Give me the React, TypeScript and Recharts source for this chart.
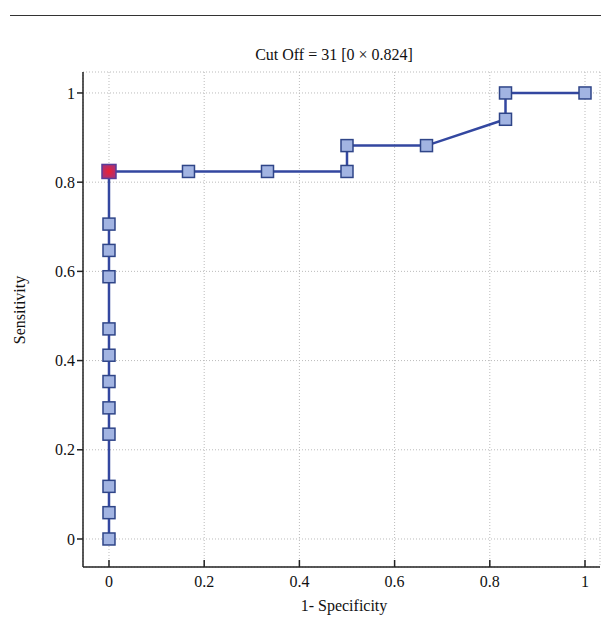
import { ComposedChart, Line, Scatter, XAxis, YAxis, CartesianGrid } from "recharts";

// ROC points (1 - specificity, sensitivity)
const fpr = [0, 0, 0, 0, 0, 0, 0, 0, 0, 0, 0, 0, 0.167, 0.333, 0.5, 0.5, 0.667, 0.833, 0.833, 1];
const tpr = [0, 0.059, 0.118, 0.235, 0.294, 0.353, 0.412, 0.471, 0.588, 0.647, 0.706, 0.824, 0.824, 0.824, 0.824, 0.882, 0.882, 0.941, 1, 1];
const cutOff = { x: 0, y: 0.824 };
const tickValues = [0, 0.2, 0.4, 0.6, 0.8, 1];

const rocData = fpr.map((x, i) => ({ x, y: tpr[i] }));
const cutData = [cutOff];

const FONT = "'Liberation Serif', serif";

const SquareDot = (props: any) => {
  const { cx, cy } = props;
  if (cx == null || cy == null) return null;
  return <rect x={cx - 6} y={cy - 6} width={12} height={12} fill="#a2b4e2" stroke="#2f4588" strokeWidth={1.5} />;
};

const RedSquare = (props: any) => {
  const { cx, cy } = props;
  if (cx == null || cy == null) return null;
  return (
    <g>
      <defs>
        <radialGradient id="redGrad">
          <stop offset="0%" stopColor="#ee2030" />
          <stop offset="100%" stopColor="#b03070" />
        </radialGradient>
      </defs>
      <rect x={cx - 7} y={cy - 7} width={14} height={14} fill="url(#redGrad)" stroke="#5a3c98" strokeWidth={1.5} />
    </g>
  );
};

const XTick = (props: any) => {
  const { x, y, payload } = props;
  return (
    <g>
      <line x1={x} x2={x} y1={y - 7} y2={y} stroke="#222" strokeWidth={1.5} />
      <text x={x} y={y + 20} textAnchor="middle" fontFamily={FONT} fontSize={16} fill="#111">
        {String(payload.value)}
      </text>
    </g>
  );
};

export default function App() {
  return (
    <div style={{ position: "absolute", left: 0, top: 0, width: 601, height: 632, background: "#fff" }}>
      <div style={{ position: "absolute", left: 10, top: 15, width: 591, height: 0, borderTop: "1.5px solid #333" }} />
      <ComposedChart
        width={601}
        height={632}
        margin={{ top: 72, right: 1, left: 0, bottom: 0 }}
      >
        <text x={334} y={60} textAnchor="middle" fontFamily={FONT} fontSize={16} fill="#111">
          Cut Off = 31 [0 × 0.824]
        </text>
        <text x={344} y={611} textAnchor="middle" fontFamily={FONT} fontSize={16} fill="#111">
          1- Specificity
        </text>
        <text x={25} y={310} textAnchor="middle" fontFamily={FONT} fontSize={16} fill="#111" transform="rotate(-90 25 310)">
          Sensitivity
        </text>
        <CartesianGrid stroke="#bbbbbb" strokeDasharray="1 2" />
        <XAxis
          dataKey="x"
          type="number"
          domain={[-0.0546, 1.0315]}
          ticks={tickValues}
          allowDataOverflow
          height={65}
          tickLine={false}
          tickSize={0}
          tickMargin={0}
          tick={<XTick />}
          axisLine={{ stroke: "#222", strokeWidth: 1.5 }}
        />
        <YAxis
          dataKey="y"
          type="number"
          domain={[-0.0628, 1.047]}
          ticks={tickValues}
          allowDataOverflow
          width={83}
          tickLine={{ stroke: "#222", strokeWidth: 1.5 }}
          tickSize={6}
          tickMargin={2}
          tick={{ fontFamily: FONT, fontSize: 16, fill: "#111" }}
          tickFormatter={(v: number) => String(v)}
          axisLine={{ stroke: "#222", strokeWidth: 1.5 }}
        />
        <Line
          data={rocData}
          dataKey="y"
          type="linear"
          stroke="#3347a0"
          strokeWidth={2.5}
          dot={<SquareDot />}
          activeDot={false}
          isAnimationActive={false}
        />
        <Scatter data={cutData} dataKey="y" shape={<RedSquare />} isAnimationActive={false} />
      </ComposedChart>
    </div>
  );
}
